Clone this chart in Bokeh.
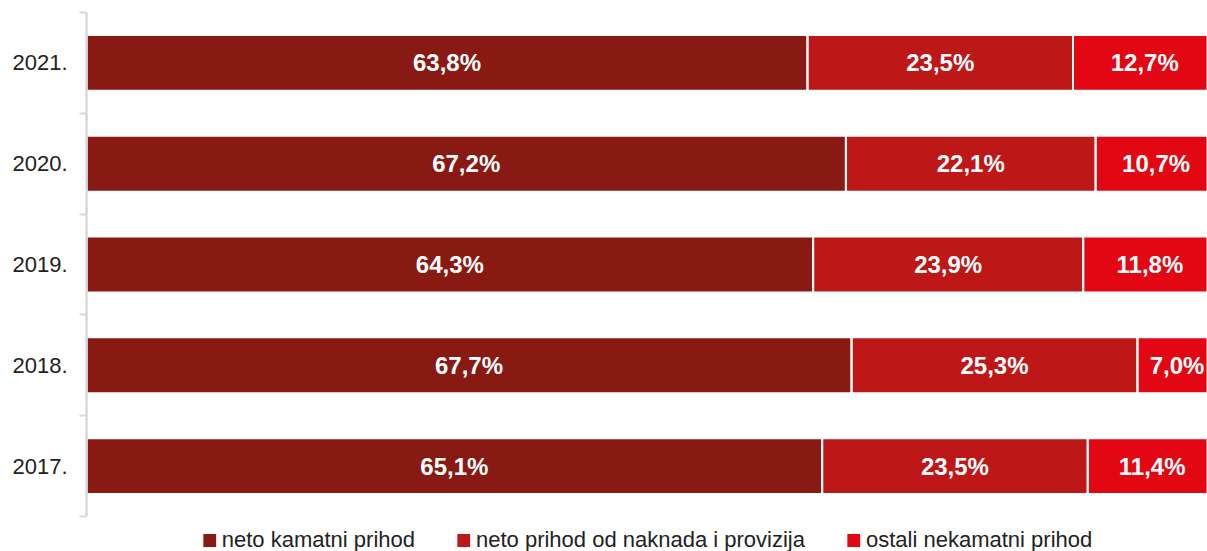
from bokeh.plotting import figure
from bokeh.models import ColumnDataSource, Range1d, FixedTicker, Legend, LegendItem
from bokeh.core.properties import value
from bokeh.embed import file_html
from bokeh.resources import INLINE

# Data (bottom to top)
years = ["2017.", "2018.", "2019.", "2020.", "2021."]
neto_kamatni = [65.1, 67.7, 64.3, 67.2, 63.8]
naknade = [23.5, 25.3, 23.9, 22.1, 23.5]
ostali = [11.4, 7.0, 11.8, 10.7, 12.7]
series_names = ["neto kamatni prihod", "neto prihod od naknada i provizija", "ostali nekamatni prihod"]
colors = ["#881913", "#BD1717", "#E30613"]

FONT = "Liberation Sans"

ypos = [i + 0.5 for i in range(len(years))]
src = ColumnDataSource(dict(y=ypos, a=neto_kamatni, b=naknade, c=ostali))

p = figure(frame_width=1121, frame_height=504, output_backend="svg", toolbar_location=None,
           x_range=Range1d(0, 99.2), y_range=Range1d(0, len(years)),
           x_axis_location=None, min_border_left=86, min_border_right=0,
           min_border_top=12, min_border_bottom=0)
p.outline_line_color = None
p.grid.visible = False
p.background_fill_color = "white"

# filled segments (used for legend swatches)
rs = p.hbar_stack(["a", "b", "c"], y="y", height=0.555, source=src,
                  fill_color=colors, line_color=None)
# white separators / outlines on top
p.hbar_stack(["a", "b", "c"], y="y", height=0.555, source=src,
             fill_alpha=0, line_color="white", line_width=2)

# labels
lx, ly, lt = [], [], []
for i in range(len(years)):
    vals = [neto_kamatni[i], naknade[i], ostali[i]]
    start = 0.0
    for v in vals:
        lx.append(start + v / 2)
        ly.append(ypos[i])
        lt.append(f"{v:.1f}".replace(".", ",") + "%")
        start += v
p.text(x=lx, y=ly, text=lt, text_color="white", text_font=value(FONT),
       text_font_style="bold", text_font_size="24px", text_align="center",
       text_baseline="middle")

ax = p.yaxis[0]
ax.ticker = FixedTicker(ticks=ypos, minor_ticks=list(range(len(years) + 1)))
ax.major_label_overrides = {y: lab for y, lab in zip(ypos, years)}
ax.major_tick_out = 0
ax.major_tick_in = 0
ax.minor_tick_out = 7
ax.minor_tick_in = 0
ax.minor_tick_line_color = "#d9d9d9"
ax.minor_tick_line_width = 2
ax.axis_line_color = "#d9d9d9"
ax.axis_line_width = 2.5
ax.major_label_standoff = 12
ax.major_label_text_font = FONT
ax.major_label_text_font_size = "22px"
ax.major_label_text_color = "#222222"

legend = Legend(items=[LegendItem(label=n, renderers=[r]) for n, r in zip(series_names, rs)],
                orientation="horizontal", location="top",
                glyph_width=16, glyph_height=16, label_standoff=5, spacing=40,
                label_text_font=FONT, label_text_font_size="22px",
                label_text_color="#222222", border_line_color=None,
                background_fill_alpha=0, padding=0, margin=11)
p.add_layout(legend, "below")

open("out.html", "w").write(file_html(p, INLINE))
